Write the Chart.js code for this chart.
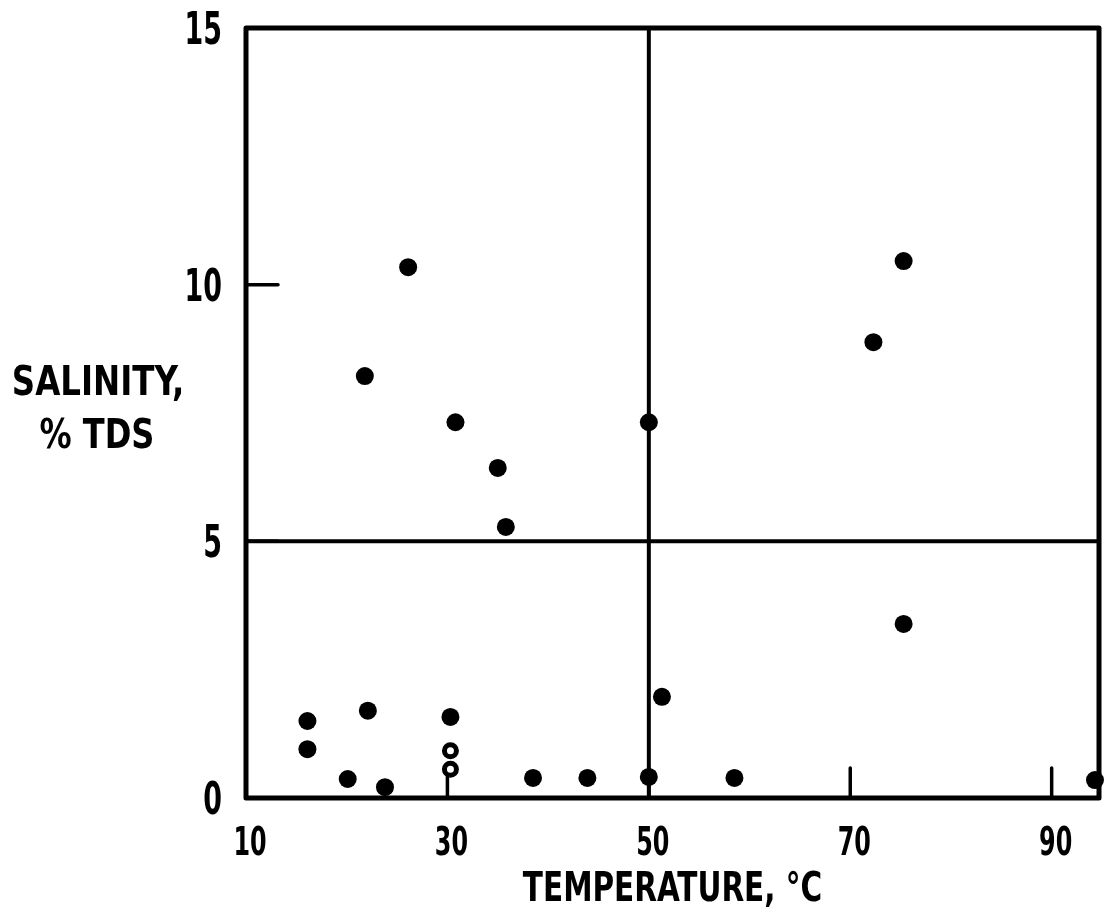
<!DOCTYPE html>
<html>
<head>
<meta charset="utf-8">
<script src="https://cdn.jsdelivr.net/npm/chart.js@4/dist/chart.umd.min.js"></script>
<style>
  html, body { margin: 0; padding: 0; background: #fff; }
  #wrap { width: 1110px; height: 919px; position: relative; }
</style>
</head>
<body>
<div id="wrap"><canvas id="c"></canvas></div>
<script>
// ---- data ----
const xTickValues = [10, 30, 50, 70, 90];
const yTickValues = [0, 5, 10, 15];
const xTickLabels = ['10', '30', '50', '70', '90'];
const yTickLabels = ['0', '5', '10', '15'];
const xTitle = 'TEMPERATURE, °C';
const yTitleLines = ['SALINITY,', '% TDS'];

const solidTemp     = [16.1, 16.1, 20.1, 23.8, 22.1, 21.8, 26.1, 30.8, 35.0, 35.8, 30.3, 38.5, 43.9, 50.0, 50.0, 51.3, 58.5, 72.3, 75.3, 75.3, 94.3];
const solidSalinity = [1.50, 0.95, 0.37, 0.21, 1.70, 8.22, 10.34, 7.32, 6.43, 5.28, 1.58, 0.39, 0.39, 0.41, 7.32, 1.97, 0.39, 8.88, 10.46, 3.39, 0.35];

const openTemp     = [30.3, 30.3];
const openSalinity = [0.92, 0.56];

const vLineTemp = [50, 50];
const vLineSal  = [0, 15];
const hLineTemp = [10, 94.7];
const hLineSal  = [5, 5];

const xMin = 10, xMax = 94.7, yMin = 0, yMax = 15;

const FONT = "'DejaVu Sans Condensed', 'DejaVu Sans', sans-serif";

const pts = (xs, ys) => xs.map((x, i) => ({ x: x, y: ys[i] }));

// draw horizontally condensed text (the reference uses a narrow heavy face)
function condensedText(ctx, text, x, y, size, sx, align) {
  ctx.save();
  ctx.font = 'bold ' + size + 'px ' + FONT;
  ctx.textBaseline = 'alphabetic';
  ctx.textAlign = align;
  ctx.translate(x, y);
  ctx.scale(sx, 1);
  ctx.fillText(text, 0, 0);
  ctx.restore();
}

const framePlugin = {
  id: 'frame',
  beforeDatasetsDraw(chart) {
    const { ctx, chartArea: a, scales } = chart;
    ctx.save();
    ctx.strokeStyle = '#000';
    ctx.lineJoin = 'round';
    ctx.lineCap = 'round';
    ctx.lineWidth = 5;
    ctx.strokeRect(a.left, a.top, a.right - a.left, a.bottom - a.top);
    // inward tick marks
    ctx.lineWidth = 3.5;
    ctx.beginPath();
    xTickValues.forEach(v => {
      if (v <= xMin || v >= xMax) return;
      const px = scales.x.getPixelForValue(v);
      ctx.moveTo(px, a.bottom);
      ctx.lineTo(px, a.bottom - 30);
    });
    yTickValues.forEach(v => {
      if (v <= yMin || v >= yMax) return;
      const py = scales.y.getPixelForValue(v);
      ctx.moveTo(a.left, py);
      ctx.lineTo(a.left + 32, py);
    });
    ctx.stroke();
    ctx.restore();
  },
  afterDraw(chart) {
    const { ctx, chartArea: a, scales } = chart;
    ctx.save();
    ctx.fillStyle = '#000';
    // y tick labels
    yTickValues.forEach((v, i) => {
      const py = scales.y.getPixelForValue(v);
      condensedText(ctx, yTickLabels[i], a.left - 24, py + 16, 44, 0.68, 'right');
    });
    // x tick labels
    xTickValues.forEach((v, i) => {
      const px = scales.x.getPixelForValue(v);
      condensedText(ctx, xTickLabels[i], px + 4, a.bottom + 57, 39, 0.68, 'center');
    });
    // axis titles
    condensedText(ctx, xTitle, (a.left + a.right) / 2, 901, 40, 0.82, 'center');
    condensedText(ctx, yTitleLines[0], 98, 395, 41, 0.88, 'center');
    condensedText(ctx, yTitleLines[1], 97, 448, 41, 0.87, 'center');
    ctx.restore();
  }
};

new Chart(document.getElementById('c'), {
  type: 'scatter',
  data: {
    datasets: [
      {
        label: 'solid',
        data: pts(solidTemp, solidSalinity),
        pointRadius: 9,
        pointHoverRadius: 9,
        pointBackgroundColor: '#000',
        pointBorderColor: '#000',
        pointBorderWidth: 0,
        clip: false
      },
      {
        label: 'open',
        data: pts(openTemp, openSalinity),
        pointRadius: 6,
        pointHoverRadius: 6,
        pointBackgroundColor: '#fff',
        pointBorderColor: '#000',
        pointBorderWidth: 5,
        clip: false
      },
      {
        label: 'v',
        data: pts(vLineTemp, vLineSal),
        showLine: true,
        borderColor: '#000',
        borderWidth: 4,
        pointRadius: 0,
        clip: false
      },
      {
        label: 'h',
        data: pts(hLineTemp, hLineSal),
        showLine: true,
        borderColor: '#000',
        borderWidth: 4,
        pointRadius: 0,
        clip: false
      }
    ]
  },
  options: {
    responsive: true,
    maintainAspectRatio: false,
    animation: false,
    layout: { padding: { top: 28, right: 0, left: 0, bottom: 0 } },
    plugins: { legend: { display: false }, tooltip: { enabled: false } },
    scales: {
      x: {
        type: 'linear',
        position: 'bottom',
        min: xMin,
        max: xMax,
        grid: { display: false, drawTicks: false },
        border: { display: false },
        ticks: { display: false },
        afterBuildTicks(scale) { scale.ticks = xTickValues.map(v => ({ value: v })); },
        afterFit(scale) { scale.height = 121; scale.paddingLeft = 0; scale.paddingRight = 0; }
      },
      y: {
        type: 'linear',
        position: 'left',
        min: yMin,
        max: yMax,
        grid: { display: false, drawTicks: false },
        border: { display: false },
        ticks: { display: false },
        afterBuildTicks(scale) { scale.ticks = yTickValues.map(v => ({ value: v })); },
        afterFit(scale) { scale.width = 246; scale.paddingTop = 0; scale.paddingBottom = 0; }
      }
    }
  },
  plugins: [framePlugin]
});
</script>
</body>
</html>
